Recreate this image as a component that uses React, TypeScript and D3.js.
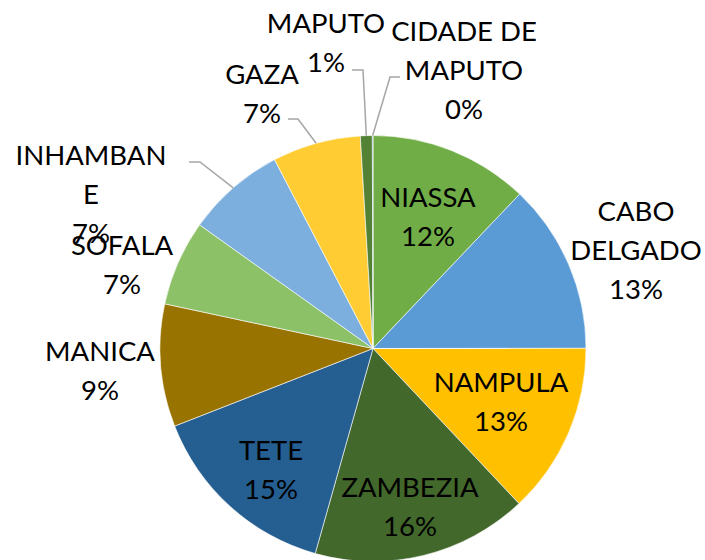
import React from "react";
import * as d3 from "d3";

const provinces = ["NIASSA", "CABO DELGADO", "NAMPULA", "ZAMBEZIA", "TETE", "MANICA", "SOFALA", "INHAMBANE", "GAZA", "MAPUTO", "CIDADE DE MAPUTO"];
const shares = [12.1, 12.9, 13.0, 16.4, 14.7, 9.3, 6.5, 7.5, 6.7, 0.9, 0.05];
const pctLabels = ["12%", "13%", "13%", "16%", "15%", "9%", "7%", "7%", "7%", "1%", "0%"];
const colors = ["#70AD47", "#5B9BD5", "#FFC000", "#43682B", "#255E91", "#997300", "#8CC168", "#7CAFDD", "#FFCD33", "#548235", "#2E75B6"];

// label layout: text lines, center x, first line y (center), leader elbow (if any)
const labelLines = [
  ["NIASSA"], ["CABO", "DELGADO"], ["NAMPULA"], ["ZAMBEZIA"], ["TETE"], ["MANICA"], ["SOFALA"],
  ["INHAMBAN", "E"], ["GAZA"], ["MAPUTO"], ["CIDADE DE", "MAPUTO"],
];
const labelPos: [number, number][] = [
  [428, 196], [636, 210], [501, 381], [410, 486], [271, 449], [100, 350], [122, 244],
  [91, 154], [262, 73], [326, 22], [464, 30],
];
const leaderElbow: ([number, number, number] | null)[] = [
  null, null, null, null, null, null, null,
  [189, 200, 162], [288, 298, 119], [352, 363, 70], [400, 390, 77],
];

const W = 705, H = 560;
const cx = 373, cy = 348.5, R = 213;
const lineH = 39;

export default function App() {
  const pie = d3.pie<number>().sort(null).value((d) => d);
  const arcs = pie(shares);
  const arcGen = d3.arc<d3.PieArcDatum<number>>().innerRadius(0).outerRadius(R);
  return (
    <svg width={W} height={H} style={{ position: "absolute", left: 0, top: 0, background: "#fff" }}
      fontFamily="Lato, 'Open Sans', sans-serif">
      <g transform={`translate(${cx},${cy})`}>
        {arcs.map((a, i) => (
          <path key={i} d={arcGen(a) || ""} fill={colors[i]} stroke="#fff" strokeWidth={0.6} />
        ))}
      </g>
      {arcs.map((a, i) => {
        const e = leaderElbow[i];
        if (!e) return null;
        const mid = (a.startAngle + a.endAngle) / 2;
        const px = cx + R * Math.sin(mid);
        const py = cy - R * Math.cos(mid);
        return (
          <polyline key={"l" + i} points={`${e[0]},${e[2]} ${e[1]},${e[2]} ${px},${py}`}
            fill="none" stroke="#A6A6A6" strokeWidth={1.5} />
        );
      })}
      {provinces.map((p, i) => {
        const lines = [...labelLines[i], pctLabels[i]];
        const [x, y] = labelPos[i];
        return (
          <text key={"t" + i} x={x} textAnchor="middle" fontSize={27.5} fill="#000">
            {lines.map((ln, j) => (
              <tspan key={j} x={x} y={y + j * lineH} dominantBaseline="central">{ln}</tspan>
            ))}
          </text>
        );
      })}
    </svg>
  );
}
